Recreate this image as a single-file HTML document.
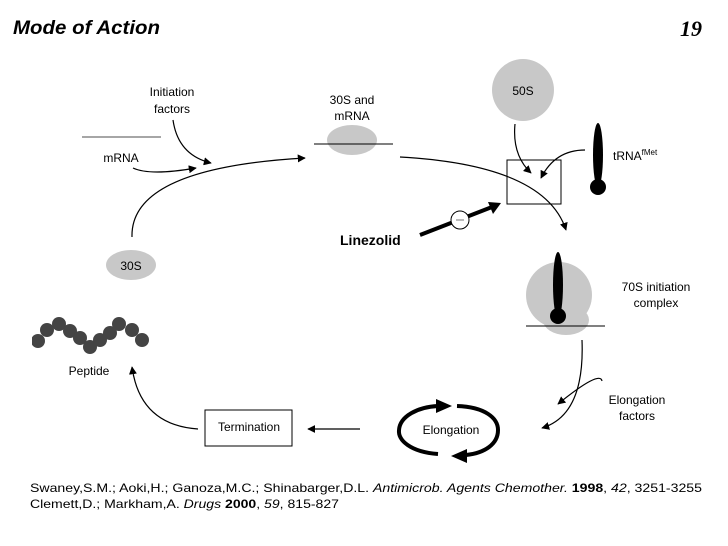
<!DOCTYPE html>
<html><head><style>
html,body{margin:0;padding:0;background:#fff;}
svg{display:block;}
text{font-family:"Liberation Sans",Arial,sans-serif;fill:#000;}
</style></head><body>
<svg width="728" height="546" viewBox="0 0 728 546" xmlns="http://www.w3.org/2000/svg">
<defs>
<marker id="a" viewBox="0 0 10 10" refX="9" refY="5" markerWidth="8" markerHeight="8" orient="auto" markerUnits="userSpaceOnUse"><path d="M0,0 L10,5 L0,10 z" fill="#000"/></marker>
</defs>
<text x="13" y="34" font-size="19" font-weight="bold" font-style="italic" textLength="147" lengthAdjust="spacingAndGlyphs">Mode of Action</text>
<text x="680" y="36" font-size="22" font-weight="bold" font-style="italic" style="font-family:'Liberation Serif',serif">19</text>

<text x="172" y="96" font-size="12" text-anchor="middle">Initiation</text>
<text x="172" y="113" font-size="12" text-anchor="middle">factors</text>
<line x1="82" y1="137" x2="161" y2="137" stroke="#888" stroke-width="1.5"/>
<text x="121" y="162" font-size="12" text-anchor="middle">mRNA</text>
<path d="M133,168 Q150,176 196,168" fill="none" stroke="#000" stroke-width="1.2" marker-end="url(#a)"/>
<path d="M173,120 Q178,155 211,163" fill="none" stroke="#000" stroke-width="1.2" marker-end="url(#a)"/>
<path d="M132,237 Q130,168 305,158" fill="none" stroke="#000" stroke-width="1.2" marker-end="url(#a)"/>

<text x="352" y="104" font-size="12" text-anchor="middle">30S and</text>
<text x="352" y="120" font-size="12" text-anchor="middle">mRNA</text>
<ellipse cx="352" cy="140" rx="25" ry="15" fill="#c8c8c8"/>
<line x1="314" y1="144" x2="393" y2="144" stroke="#000" stroke-width="1"/>
<path d="M400,157 Q545,165 566,230" fill="none" stroke="#000" stroke-width="1.2" marker-end="url(#a)"/>

<circle cx="523" cy="90" r="31" fill="#c8c8c8"/>
<text x="523" y="95" font-size="12" text-anchor="middle">50S</text>
<rect x="507" y="160" width="54" height="44" fill="none" stroke="#000" stroke-width="1"/>
<path d="M515,124 Q512,155 531,173" fill="none" stroke="#000" stroke-width="1.2" marker-end="url(#a)"/>
<path d="M585,150 Q555,150 541,178" fill="none" stroke="#000" stroke-width="1.2" marker-end="url(#a)"/>
<ellipse cx="598" cy="155" rx="5" ry="32" fill="#000"/>
<circle cx="598" cy="187" r="8" fill="#000"/>
<text x="613" y="160" font-size="12">tRNA<tspan font-size="8" dy="-5">fMet</tspan></text>

<text x="340" y="245" font-size="14" font-weight="bold">Linezolid</text>
<line x1="420" y1="235" x2="492" y2="207" stroke="#000" stroke-width="4"/>
<path d="M501,203 L488,202 L493,214 z" fill="#000"/>
<circle cx="460" cy="220" r="9" fill="#fff" stroke="#000" stroke-width="1"/>
<line x1="456" y1="220" x2="464" y2="220" stroke="#777" stroke-width="1"/>

<ellipse cx="131" cy="265" rx="25" ry="15" fill="#c8c8c8"/>
<text x="131" y="270" font-size="12" text-anchor="middle">30S</text>

<ellipse cx="566" cy="320" rx="23" ry="15" fill="#c8c8c8"/>
<circle cx="559" cy="295" r="33" fill="#c8c8c8"/>
<ellipse cx="558" cy="285" rx="5" ry="33" fill="#000"/>
<circle cx="558" cy="316" r="8" fill="#000"/>
<line x1="526" y1="326" x2="605" y2="326" stroke="#000" stroke-width="1"/>
<text x="656" y="291" font-size="12" text-anchor="middle">70S initiation</text>
<text x="656" y="307" font-size="12" text-anchor="middle">complex</text>

<path d="M582,340 Q585,415 542,428" fill="none" stroke="#000" stroke-width="1.2" marker-end="url(#a)"/>
<text x="637" y="404" font-size="12" text-anchor="middle">Elongation</text>
<text x="637" y="420" font-size="12" text-anchor="middle">factors</text>
<path d="M602,381 Q600,370 558,404" fill="none" stroke="#000" stroke-width="1.2" marker-end="url(#a)"/>

<!-- Elongation cycle -->
<path d="M438,454 C410,452 398,440 399,430 C400,416 418,407 438,406" fill="none" stroke="#000" stroke-width="4"/>
<path d="M452,406 L436,399 L436,413 z" fill="#000"/>
<path d="M457,406 C485,407 498,418 498,430 C498,444 485,453 466,455" fill="none" stroke="#000" stroke-width="4"/>
<path d="M451,456 L467,449 L467,463 z" fill="#000"/>
<text x="451" y="434" font-size="12" text-anchor="middle">Elongation</text>

<line x1="360" y1="429" x2="308" y2="429" stroke="#000" stroke-width="1.2" marker-end="url(#a)"/>
<rect x="205" y="410" width="87" height="36" fill="#fff" stroke="#000" stroke-width="1"/>
<text x="249" y="431" font-size="12" text-anchor="middle">Termination</text>
<path d="M198,429 Q140,425 132,367" fill="none" stroke="#000" stroke-width="1.2" marker-end="url(#a)"/>

<g fill="#444">
<circle cx="38" cy="341" r="7"/><circle cx="47" cy="330" r="7"/><circle cx="59" cy="324" r="7"/>
<circle cx="70" cy="331" r="7"/><circle cx="80" cy="338" r="7"/><circle cx="90" cy="347" r="7"/>
<circle cx="100" cy="340" r="7"/><circle cx="110" cy="333" r="7"/><circle cx="119" cy="324" r="7"/>
<circle cx="132" cy="330" r="7"/><circle cx="142" cy="340" r="7"/>
</g>
<rect x="30" y="330" width="2" height="20" fill="#fff"/>
<text x="89" y="375" font-size="12" text-anchor="middle">Peptide</text>

<text x="30" y="492" font-size="12" textLength="672" lengthAdjust="spacingAndGlyphs">Swaney,S.M.; Aoki,H.; Ganoza,M.C.; Shinabarger,D.L. <tspan font-style="italic">Antimicrob. Agents Chemother.</tspan> <tspan font-weight="bold">1998</tspan>, <tspan font-style="italic">42</tspan>, 3251-3255</text>
<text x="30" y="508" font-size="12" textLength="309" lengthAdjust="spacingAndGlyphs">Clemett,D.; Markham,A. <tspan font-style="italic">Drugs</tspan> <tspan font-weight="bold">2000</tspan>, <tspan font-style="italic">59</tspan>, 815-827</text>
</svg>
</body></html>
